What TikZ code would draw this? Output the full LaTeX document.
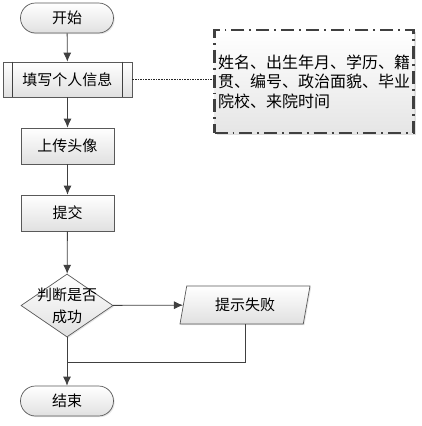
\documentclass[tikz,border=0pt]{standalone}
\usepackage{fontspec}
\setmainfont{Noto Sans CJK SC}
\usetikzlibrary{shapes.geometric,arrows.meta,shadows}

\begin{document}
\begin{tikzpicture}[x=1pt,y=-1pt,
  every node/.style={font=\fontsize{15}{18}\selectfont},
  box/.style={draw=black!65, line width=0.7pt, top color=white, bottom color=black!12,
    minimum width=93pt, minimum height=36pt, inner sep=0pt,
    drop shadow={shadow xshift=1.2pt, shadow yshift=-1.2pt, opacity=0.2}},
  term/.style={box, rounded corners=15pt, minimum height=30pt},
  flow/.style={draw=black!75, line width=0.8pt, -{Latex[length=9pt,width=8pt]}},
  line/.style={draw=black!75, line width=0.8pt}]

  \useasboundingbox (0,0) rectangle (421,426);

  % main column
  \node[term] (start) at (67,18) {开始};
  \node[box, minimum width=129pt, minimum height=35pt] (info) at (67.5,79.5) {填写个人信息};
  \draw[line] ([xshift=10pt]info.north west) -- ([xshift=10pt]info.south west);
  \draw[line] ([xshift=-10pt]info.north east) -- ([xshift=-10pt]info.south east);
  \node[box] (photo) at (67.5,146) {上传头像};
  \node[box] (submit) at (67.5,213) {提交};
  \node[box, diamond, aspect=1.46, minimum width=92pt, minimum height=63pt] (check) at (67,305.5) {};
  \node[align=center, font=\fontsize{15}{22}\selectfont] (checktext) at (check) {判断是否\\成功};
  \node[box, trapezium, trapezium left angle=64, trapezium right angle=116,
    trapezium stretches body, minimum width=130pt, minimum height=38pt] (fail) at (245,305) {提示失败};
  \node[term] (end) at (67,401) {结束};

  % note on the form fields
  \node[draw=black!75, line width=2.2pt, dash pattern=on 13pt off 5pt on 1.8pt off 5pt,
    top color=white, bottom color=black!10,
    drop shadow={shadow xshift=2pt, shadow yshift=-2pt, opacity=0.25},
    minimum width=199pt, minimum height=103pt, text width=192pt, inner xsep=3.5pt,
    align=left, font=\fontsize{16}{19.5}\selectfont] (note) at (314,81.5)
    {姓名、出生年月、学历、籍\\贯、编号、政治面貌、毕业\\院校、来院时间};

  % connectors
  \draw[flow] (start) -- (info);
  \draw[flow] (info) -- (photo);
  \draw[flow] (photo) -- (submit);
  \draw[flow] (submit) -- (check);
  \draw[flow] (check) -- (fail);
  \draw[flow] (check) -- (end);
  \coordinate (join) at (67,362);
  \draw[line] (fail) |- (join);
  \draw[densely dotted, line width=1.6pt, black!85] (info.east) -- (info.east -| note.west);

\end{tikzpicture}
\end{document}
